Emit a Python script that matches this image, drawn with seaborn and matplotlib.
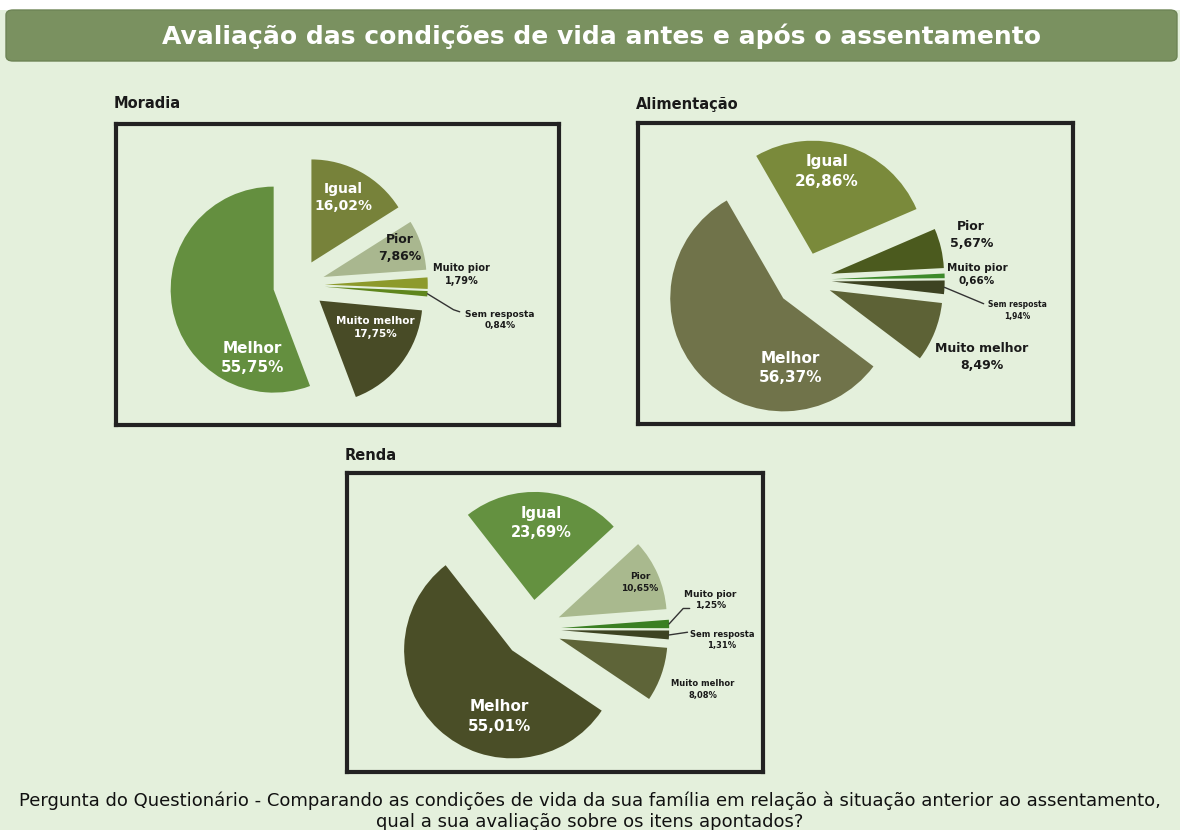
import numpy as np
import seaborn as sns
from matplotlib import pyplot as plt
from matplotlib.patches import FancyBboxPatch, Rectangle

# 01 - Data (percentages)
categorias = ["Igual", "Pior", "Muito pior", "Sem resposta", "Muito melhor", "Melhor"]
moradia = [16.02, 7.86, 1.79, 0.84, 17.75, 55.75]
alimentacao = [26.86, 5.67, 0.66, 1.94, 8.49, 56.37]
renda = [23.69, 10.65, 1.25, 1.31, 8.08, 55.01]

cores_moradia = ["#77823a", "#a9b78f", "#8d9a2c", "#5f861d", "#484b26", "#648f3f"]
cores_alimentacao = ["#7a8a3b", "#4b5a1e", "#3c8a2a", "#3d4322", "#5d6236", "#70734a"]
cores_renda = ["#649140", "#a9b98e", "#3a7f22", "#3d4322", "#5e6438", "#4a4e27"]

titulo = "Avaliação das condições de vida antes e após o assentamento"
rodape = ("Pergunta do Questionário - Comparando as condições de vida da sua família "
          "em relação à situação anterior ao assentamento,\nqual a sua avaliação sobre os itens apontados?")

BG = "#e4f0dc"
W, H = 1180, 830

sns.set_style("white")
plt.rcParams['font.family'] = ['DejaVu Sans']

fig = plt.figure(figsize=(W / 100, H / 100), dpi=100, facecolor=BG)


def px_box(x0, y0, x1, y1):
    return [x0 / W, 1 - y1 / H, (x1 - x0) / W, (y1 - y0) / H]


# 02 - Header bar
fig.patches.append(Rectangle((0, 1 - 10 / H), 1, 10 / H, transform=fig.transFigure,
                             facecolor="white", edgecolor="none", zorder=0))
fig.patches.append(FancyBboxPatch((6 / W, 1 - 61 / H), 1171 / W, 51 / H,
                                  boxstyle="round,pad=0,rounding_size=0.006",
                                  transform=fig.transFigure, facecolor="#7a9160",
                                  edgecolor="#6d8455", linewidth=1, zorder=1))
fig.text(602 / W, 1 - 36 / H, titulo, ha="center", va="center", color="white",
         fontsize=18, fontweight="bold")


# 03 - Pie panels
def panel(nome, valores, cores, box, centro, raio, inicio, explode, rotulos, estilo, linhas, titulo_xy):
    x0, y0, x1, y1 = box
    cx, cy = centro
    ax = fig.add_axes(px_box(x0, y0, x1, y1))
    wedges, _ = ax.pie(valores, colors=cores, startangle=inicio, counterclock=False,
                       explode=[explode] * len(valores),
                       wedgeprops=dict(linewidth=0))
    ax.set_aspect("auto")
    ax.set_xlim((x0 - cx) / raio, (x1 - cx) / raio)
    ax.set_ylim((cy - y1) / raio, (cy - y0) / raio)
    ax.set_facecolor(BG)
    ax.set_frame_on(True)
    ax.set_xticks([])
    ax.set_yticks([])
    for s in ax.spines.values():
        s.set_visible(True)
        s.set_color("#222222")
        s.set_linewidth(3)

    for i, (cat, val) in enumerate(zip(categorias, valores)):
        txt = f"{cat}\n{val:.2f}%".replace(".", ",")
        tx, ty = rotulos[i]
        size, cor = estilo[i]
        ax.text(tx, ty, txt, ha="center", va="center", fontsize=size, color=cor,
                fontweight="bold", linespacing=1.35)

    # leader lines for the thin slices
    for i, pts in linhas.items():
        w = wedges[i]
        mid = np.deg2rad((w.theta1 + w.theta2) / 2)
        sx = w.center[0] + w.r * np.cos(mid)
        sy = w.center[1] + w.r * np.sin(mid)
        xs = [sx] + [p[0] for p in pts]
        ys = [sy] + [p[1] for p in pts]
        ax.plot(xs, ys, color="#333333", linewidth=1)

    fig.text(titulo_xy[0] / W, 1 - titulo_xy[1] / H, nome, ha="left", va="center",
             fontsize=10.5, fontweight="bold", color="#1a1a1a")


WHITE, DARK = "white", "#1a1a1a"

panel("Moradia", moradia, cores_moradia,
      box=(116, 124, 559, 425), centro=(299, 285), raio=103, inicio=90, explode=0.25,
      rotulos=[(0.43, 0.85), (0.98, 0.36), (1.58, 0.10), (1.95, -0.34), (0.74, -0.41), (-0.45, -0.71)],
      estilo=[(10, WHITE), (9, DARK), (7, DARK), (6.5, DARK), (7.5, WHITE), (11, WHITE)],
      linhas={3: [(1.50, -0.24), (1.56, -0.26)]},
      titulo_xy=(114, 104))

panel("Alimentação", alimentacao, cores_alimentacao,
      box=(638, 123, 1073, 424), centro=(804, 280), raio=113, inicio=120, explode=0.245,
      rotulos=[(0.20, 0.96), (1.48, 0.40), (1.53, 0.05), (1.89, -0.27), (1.57, -0.68), (-0.12, -0.78)],
      estilo=[(11, WHITE), (9, DARK), (7.5, DARK), (5.5, DARK), (9, DARK), (11, WHITE)],
      linhas={3: [(1.59, -0.21)]},
      titulo_xy=(636, 104))

panel("Renda", renda, cores_renda,
      box=(347, 473, 763, 772), centro=(532, 629), raio=108, inicio=128, explode=0.27,
      rotulos=[(0.09, 0.98), (1.00, 0.43), (1.65, 0.27), (1.76, -0.10), (1.58, -0.56), (-0.30, -0.81)],
      estilo=[(10.5, WHITE), (6.5, DARK), (6.5, DARK), (6, DARK), (6, DARK), (11, WHITE)],
      linhas={2: [(1.40, 0.19), (1.46, 0.19)], 3: [(1.44, -0.03)]},
      titulo_xy=(345, 455))

# 04 - Footer question
fig.text(0.5, 1 - 811 / H, rodape, ha="center", va="center", fontsize=13,
         color="#111111", linespacing=1.25)

plt.savefig("out.png", dpi=100, facecolor=BG)
